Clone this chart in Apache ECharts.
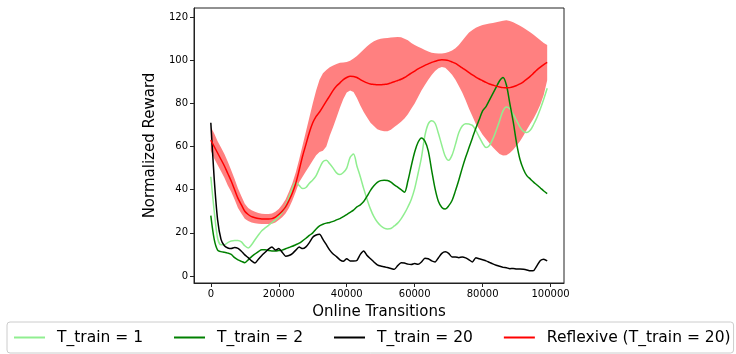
<!DOCTYPE html>
<html>
<head>
<meta charset="utf-8">
<script src="https://cdn.jsdelivr.net/npm/echarts@6/dist/echarts.min.js"></script>
<style>html,body{margin:0;padding:0;background:#fff}#c{width:736px;height:354px}</style>
</head>
<body>
<div id="c"></div>
<script>
// x positions: online transitions, sampled every 1000
const xs = [];
for (let i = 0; i < 100; i++) xs.push(i * 1000);

const xTicks = [0, 20000, 40000, 60000, 80000, 100000];
const yTicks = [0, 20, 40, 60, 80, 100, 120];

const seriesNames = ['T_train = 1', 'T_train = 2', 'T_train = 20', 'Reflexive (T_train = 20)'];

const tTrain1 = [46,30,17.5,14.5,14.5,15.5,16.2,16.5,16.5,15.8,14,13,14.5,16.8,19,21,22.3,23.5,24.8,26,
27.5,29.5,32.5,36.5,40.5,43.5,42,40.5,41,43,44.5,46.5,50,53,53.6,52,50,47.8,47,48,
50,55,56.5,51,46,40.5,35.5,31,27.5,25,23.3,22.2,21.8,22,23.2,24.5,26.5,29,32,35.5,
40.5,47.5,55,65,70.5,72,70.8,66,60.5,55.5,53.6,56,61,66.5,69.5,70.6,70.4,69.8,67.5,64.4,
61.5,59.5,60.5,63.5,67.5,72,76.5,78.3,77.5,75,72,69,67,66.5,67.5,70.2,73.5,77.5,82,87];

const tTrain2 = [28,17,12,11.3,11,10.6,10,8.5,7.5,6.8,6.2,7.5,9,10.2,11.3,12.2,12.2,11.8,11.6,11.6,
11.8,12,12.6,13.2,13.8,14.5,15.2,16.3,17.5,18.8,20,21.8,23.2,24,24.5,24.8,25.3,26,26.6,27.5,
28.5,29.5,30.5,32,33,34.5,37,39.7,41.8,43.4,44.2,44.4,44.3,43.5,42.2,41.2,40,38.8,44,51,
57.5,62,64,62.5,58,49,40.5,34.5,31.8,31,32.5,35,39.5,44.5,50,55,59.5,64,68.5,72.5,
76.5,78.5,81.5,84.5,87.5,90.5,92,88.5,80,71.5,61.5,54,49.5,46.5,45,43.5,42.2,40.8,39.4,38.2];

const tTrain20 = [71,45,26,17,14,13,12.7,13.2,12.8,11.5,9.8,8.5,7,6,7.8,9.5,11,12.5,13.4,12,
12.7,11,9.2,9.5,10.4,12,13.4,12.7,13.5,15.5,18,19,19.3,17,14.5,12,10.2,9,7.5,6.8,
8,7,7,7.2,10,11.6,9.5,8,6.5,5.2,4.6,4.3,3.9,3.5,3.1,4.8,6.2,6,5.5,5.3,
5.8,5.4,6.5,8.2,8,7,6.5,8.5,10.5,11.2,10.5,8.8,8.8,8.5,8.8,8.4,7.5,6.5,8.5,8,
7.5,7,6.3,5.6,5,4.5,4,3.8,3.4,3.5,3.3,3.3,3.1,2.8,2.4,2.5,4.8,7.2,7.8,7];

const reflexMean = [63,60,57,54,51,47.5,44,40,36,33,30,28.5,27.5,27,26.6,26.4,26.4,26.4,26.6,27.3,
28.5,30,32,35,38.5,43,49,55.5,61,66.5,71,74,76,78.5,81,83.5,86,88,89.5,91,
92,92.6,92.5,92,91,90.2,89.5,89,88.8,88.6,88.6,88.8,89,89.5,90,90.6,91.2,92,93,94,
95,96,96.8,97.6,98.3,99,99.5,100,100.2,100.1,99.8,99.2,98.5,97.5,96.5,95.4,94.3,93.2,92.2,91.3,
90.5,89.7,89,88.5,88,87.6,87.3,87.2,87.3,87.7,88.3,89,90,91.2,92.5,94,95.5,96.8,98,99];

const reflexUpper = [69,66,62.5,59.5,56.5,53,49,45,40.5,37,33.5,31.5,30.5,29.8,29.2,28.8,28.7,28.7,29,29.8,
31,33,35.5,39,43,48,54,60.5,67,73.5,80,86,91,94,95.5,96.7,97.5,98.2,98.8,99,
99.2,99.8,100.8,102,103.5,105,106.5,107.8,108.8,109.5,110,110.2,110.3,110.5,110.6,110.8,110.6,110,109.2,108,
107,106.2,105.5,104.7,104,103.5,103.2,103.1,103.1,103.3,103.8,104.5,105.5,107,109,111,112.8,114,115,115.7,
116.3,116.7,117,117.3,117.6,118,118.3,118.5,118.2,117.6,116.8,116,115,114,113,111.8,110.5,109.2,108,107];

const reflexLower = [58,54.5,51.5,48.5,45.5,42,39,35.5,31.5,29,26.5,25.5,24.8,24.4,24.2,24.1,24.1,24.1,24.2,24.8,
26,27.2,29,31.5,35,39,43.5,46,48.5,51,53.5,56,57.5,58,60,65,69,73.5,78,82,
85,86,85.3,82.5,79,76,73.5,71,69.5,68,67.4,67.1,67.1,67.8,69,70.2,71.5,73,75,77.5,
80,83,86,88.5,91,93.2,95,96.3,96.9,96.5,95,93.3,91,88,85,81.5,77.5,74,70.5,68,
65.5,63.5,61.5,59.7,58,56.5,55.8,56,57,58.5,60.5,62.5,65,67.8,70.5,73,76,79.5,84,90.7];

const pairs = (arr) => arr.map((v, i) => [xs[i], v]);
const bandRows = xs.map((x, i) => [x, reflexLower[i], reflexUpper[i]]);

const chart = echarts.init(document.getElementById('c'), null, {renderer: 'canvas'});
const FONT = 'DejaVu Sans';

chart.setOption({
  animation: false,
  backgroundColor: '#fff',
  textStyle: {fontFamily: FONT},
  grid: {left: 194, top: 8, right: 172, bottom: 71, show: true, borderColor: '#222', borderWidth: 1, backgroundColor: 'transparent'},
  xAxis: {
    type: 'value', min: -4950, max: 103950,
    name: 'Online Transitions', nameLocation: 'middle', nameGap: 22,
    nameTextStyle: {fontSize: 15, color: '#000', fontFamily: FONT},
    axisLine: {show: true, onZero: false, lineStyle: {color: '#222', width: 1}},
    axisTick: {show: true, length: 4, lineStyle: {color: '#222'}, customValues: xTicks},
    axisLabel: {fontSize: 10, color: '#000', margin: 6, customValues: xTicks, fontFamily: FONT,
      formatter: (v) => String(Math.round(v))},
    splitLine: {show: false}
  },
  yAxis: {
    type: 'value', min: -3.24, max: 124.2,
    name: 'Normalized Reward', nameLocation: 'middle', nameGap: 16,
    nameTextStyle: {fontSize: 15, color: '#000', fontFamily: FONT},
    axisLine: {show: true, onZero: false, lineStyle: {color: '#222', width: 1}},
    axisTick: {show: true, length: 4, lineStyle: {color: '#222'}, customValues: yTicks},
    axisLabel: {fontSize: 10, color: '#000', margin: 6, customValues: yTicks, fontFamily: FONT,
      formatter: (v) => String(Math.round(v))},
    splitLine: {show: false}
  },
  legend: {
    data: seriesNames.map(n => ({name: n, icon: 'rect'})),
    left: 7, top: 322, orient: 'horizontal',
    itemWidth: 31, itemHeight: 2, itemGap: 31,
    padding: [7, 3, 7, 7],
    backgroundColor: '#fff', borderColor: '#cccccc', borderWidth: 1, borderRadius: 3,
    textStyle: {fontSize: 15.5, color: '#000', fontFamily: FONT, lineHeight: 17, padding: [0, 0, 0, 7]}
  },
  series: [
    {
      name: 'band', type: 'custom', silent: true, z: 1,
      data: [0],
      renderItem: function (params, api) {
        const pts = [];
        for (let i = 0; i < bandRows.length; i++) pts.push(api.coord([bandRows[i][0], bandRows[i][2]]));
        for (let i = bandRows.length - 1; i >= 0; i--) pts.push(api.coord([bandRows[i][0], bandRows[i][1]]));
        return {type: 'polygon', shape: {points: pts, smooth: 0}, style: {fill: '#ff8080', stroke: null}};
      }
    },
    {name: seriesNames[0], type: 'line', data: pairs(tTrain1), symbol: 'none', smooth: 0.3,
     lineStyle: {color: '#90ee90', width: 1.5}, itemStyle: {color: '#90ee90'}, z: 3},
    {name: seriesNames[1], type: 'line', data: pairs(tTrain2), symbol: 'none', smooth: 0.3,
     lineStyle: {color: '#008000', width: 1.5}, itemStyle: {color: '#008000'}, z: 4},
    {name: seriesNames[2], type: 'line', data: pairs(tTrain20), symbol: 'none', smooth: 0.2,
     lineStyle: {color: '#000000', width: 1.5}, itemStyle: {color: '#000000'}, z: 5},
    {name: seriesNames[3], type: 'line', data: pairs(reflexMean), symbol: 'none', smooth: 0.3,
     lineStyle: {color: '#ff0000', width: 1.5}, itemStyle: {color: '#ff0000'}, z: 6}
  ]
});
</script>
</body>
</html>
